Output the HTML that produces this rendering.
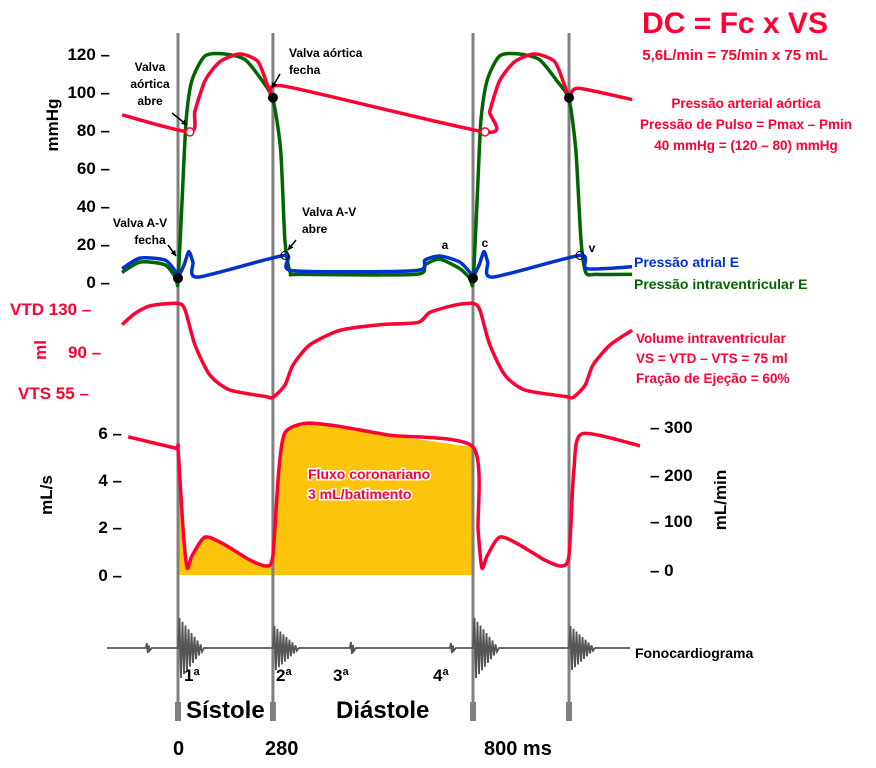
<!DOCTYPE html>
<html><head><meta charset="utf-8"><style>
body{margin:0;background:#fff}
svg{display:block;font-family:"Liberation Sans",sans-serif;font-weight:bold}
</style></head><body>
<svg id="c" width="876" height="768" viewBox="0 0 876 768">
<g id="marks"></g>
<g id="txt">
<text x="735" y="33" font-size="30" fill="#ff0033" text-anchor="middle">DC = Fc x VS</text>
<text x="735" y="60" font-size="15" fill="#ff0033" text-anchor="middle">5,6L/min = 75/min x 75 mL</text>
<g font-size="13.5" fill="#ff0033" text-anchor="middle">
<text x="746" y="108">Pressão arterial aórtica</text>
<text x="746" y="129">Pressão de Pulso = Pmax – Pmin</text>
<text x="746" y="150">40 mmHg = (120 – 80) mmHg</text></g>
<text x="634" y="267" font-size="14" fill="#0033cc">Pressão atrial E</text>
<text x="634" y="289" font-size="14" fill="#006600">Pressão intraventricular E</text>
<g font-size="13.5" fill="#ff0033">
<text x="636" y="343">Volume intraventricular</text>
<text x="636" y="363">VS = VTD – VTS = 75 ml</text>
<text x="636" y="383">Fração de Ejeção = 60%</text></g>
<g font-size="17" fill="#000" text-anchor="end">
<text x="110" y="60">120 –</text><text x="110" y="98">100 –</text><text x="110" y="136">80 –</text><text x="110" y="174">60 –</text><text x="110" y="212">40 –</text><text x="110" y="250">20 –</text><text x="110" y="288">0 –</text></g>
<text transform="translate(58,125) rotate(-90)" font-size="17" text-anchor="middle">mmHg</text>
<g font-size="17" fill="#ff0033">
<text x="10" y="315">VTD 130 –</text><text x="68" y="358">90 –</text><text x="18" y="399">VTS  55 –</text></g>
<text transform="translate(46,350) rotate(-90)" font-size="17" fill="#ff0033" text-anchor="middle">ml</text>
<g font-size="17" text-anchor="end">
<text x="122" y="439">6 –</text><text x="122" y="486">4 –</text><text x="122" y="533">2 –</text><text x="122" y="581">0 –</text></g>
<text transform="translate(52,495) rotate(-90)" font-size="17" text-anchor="middle">mL/s</text>
<g font-size="17">
<text x="650" y="433">– 300</text><text x="650" y="481">– 200</text><text x="650" y="527">– 100</text><text x="650" y="576">– 0</text></g>
<text transform="translate(726,500) rotate(-90)" font-size="17" text-anchor="middle">mL/min</text>
<g font-size="14" fill="#ff0033" stroke="#fff" stroke-width="3" paint-order="stroke">
<text x="308" y="479">Fluxo coronariano</text><text x="308" y="499">3 mL/batimento</text></g>
<text x="635" y="658" font-size="14">Fonocardiograma</text>
<g font-size="17">
<text x="184" y="681">1<tspan font-size="11" dy="-6">a</tspan></text>
<text x="276" y="681">2<tspan font-size="11" dy="-6">a</tspan></text>
<text x="333" y="681">3<tspan font-size="11" dy="-6">a</tspan></text>
<text x="433" y="681">4<tspan font-size="11" dy="-6">a</tspan></text></g>
<text x="186" y="718" font-size="24">Sístole</text>
<text x="336" y="718" font-size="24">Diástole</text>
<g font-size="20">
<text x="173" y="755">0</text><text x="265" y="755">280</text><text x="484" y="755">800  ms</text></g>
<g font-size="12" text-anchor="middle">
<text x="150" y="71">Valva</text><text x="150" y="88">aórtica</text><text x="150" y="105">abre</text>
<text x="289" y="57" text-anchor="start">Valva aórtica</text><text x="289" y="74" text-anchor="start">fecha</text>
<text x="140" y="227">Valva A-V</text><text x="150" y="244">fecha</text>
<text x="302" y="216" text-anchor="start">Valva A-V</text><text x="302" y="233" text-anchor="start">abre</text>
<text x="445" y="249">a</text><text x="485" y="247">c</text><text x="592" y="252">v</text></g>
</g>
</svg>
<script>
// time (ms) & values
const aortaT=[-165,35,50,80,124,183,236,265,280,311,835,849,878,922,980,1038,1068,1080,1106,1264];
const aortaV=[88,79,90,106,116,120,116,103,97,103,79,90,106,116,120,116,103,97,102,96];
const lvT=[-165,-112,-38,-6,0,12,24,41,80,139,198,248,280,300,311,325,351,650,675,714,766,792,800,812,823,841,878,936,994,1044,1080,1100,1115,1129,1158,1264];
const lvV=[5,10.5,9,2,0,43,85,106,119,120,117,106,96,69,22,5,4,4,9,12,7,2,0,43,85,106,119,120,117,106,96,69,22,5,4,4];
const laT=[-165,-112,-38,-9,0,18,32,44,59,311,330,650,675,714,766,792,800,818,832,843,858,1112,1132,1264];
const laV=[7,12.6,11.5,6,3,9,16,10.5,2.6,14,6,6,11.5,13.7,10.5,5,3,9,16,10.5,2.6,14,7,8];
const volT=[-165,-127,-80,0,21,50,94,153,257,280,311,332,376,454,558,657,688,753,800,820,849,893,951,1068,1092,1127,1150,1200,1264];
const volV=[116,126,133,135,129,98,71,57.7,52,51,62,80,98,111,116,118,127,133.5,135,129,98,71,57.7,52,51,62,80,98,111];
const flowT=[-147,-9,0,15,27,41,80,139,212,263,280,295,311,363,441,584,800,815,826,841,878,936,1009,1059,1080,1094,1118,1287];
const flowV=[5.83,5.36,5.3,1.9,0.3,0.8,1.6,1.27,0.63,0.38,0.84,4.4,6,6.4,6.3,5.9,5.4,1.9,0.3,0.8,1.6,1.27,0.63,0.38,0.84,4.4,5.96,5.45];
const eventT=[0,280,800,1080];
const soundT=[-95,0,280,480,740,800,1080];
const soundAmp=[5,30,22,6,5,30,22];

function x(t){return t<=280?178+t*0.339:(t<=800?273+(t-280)*0.3846:473+(t-800)*0.3429);}
function yP(v){return 282-v*1.9;}
function yV(v){return 309+(130-v)*1.12;}
function yF(v){return 575-v*23.7;}
const NS="http://www.w3.org/2000/svg",g=document.getElementById('marks');
function mk(tag,a){const e=document.createElementNS(NS,tag);for(const k in a)e.setAttribute(k,a[k]);g.appendChild(e);return e;}
function pts(T,V,ys){return T.map((t,i)=>[x(t),ys(V[i])]);}
function smooth(P){let s='M'+P[0][0].toFixed(1)+','+P[0][1].toFixed(1);const k=0.12;
 for(let i=0;i<P.length-1;i++){const p0=P[Math.max(0,i-1)],p1=P[i],p2=P[i+1],p3=P[Math.min(P.length-1,i+2)];
  s+='C'+(p1[0]+(p2[0]-p0[0])*k).toFixed(1)+','+(p1[1]+(p2[1]-p0[1])*k).toFixed(1)+' '+(p2[0]-(p3[0]-p1[0])*k).toFixed(1)+','+(p2[1]-(p3[1]-p1[1])*k).toFixed(1)+' '+p2[0].toFixed(1)+','+p2[1].toFixed(1);}
 return s;}
function d(T,V,ys){return smooth(pts(T,V,ys));}

// coronary fill 0..800
let fT=[],fV=[];flowT.forEach((t,i)=>{if(t>=0&&t<=800){fT.push(t);fV.push(flowV[i]);}});
let fd=d(fT,fV,yF)+'L'+x(800)+','+yF(0)+'L'+x(0)+','+yF(0)+'Z';
let e=mk('path',{d:fd,fill:'#fdc40e'});



eventT.forEach(t=>{
 let l=mk('line',{x1:x(t),x2:x(t),y1:33,y2:720,stroke:'#808080','stroke-width':3});
 
 
 let m=mk('line',{x1:x(t),x2:x(t),y1:702,y2:721,stroke:'#808080','stroke-width':6});
 
 
});

// phonocardiogram
let pd='M107,648';
soundT.forEach((t,i)=>{let cx=x(t),A=soundAmp[i];pd+='L'+cx.toFixed(1)+',648';
 const n=A>10?8:2,w=A>10?3:2;for(let k=0;k<n;k++){const a=A*(1-k/n);pd+='L'+(cx+k*w+w/2).toFixed(1)+','+(648-a)+'L'+(cx+k*w+w).toFixed(1)+','+(648+a);}
 pd+='L'+(cx+n*w+2).toFixed(1)+',648';});
pd+='L630,648';
e=mk('path',{d:pd,fill:'none',stroke:'#555','stroke-width':1.8});



e=mk('path',{d:d(lvT,lvV,yP),fill:'none',stroke:'#006600','stroke-width':3.5,'stroke-linejoin':'round'});


e=mk('path',{d:d(laT,laV,yP),fill:'none',stroke:'#0033cc','stroke-width':3.5,'stroke-linejoin':'round'});


e=mk('path',{d:d(aortaT,aortaV,yP),fill:'none',stroke:'#ff0033','stroke-width':3.5,'stroke-linejoin':'round'});


e=mk('path',{d:d(volT,volV,yV),fill:'none',stroke:'#ff0033','stroke-width':3.5,'stroke-linejoin':'round'});


e=mk('path',{d:d(flowT,flowV,yF),fill:'none',stroke:'#ff0033','stroke-width':3.5,'stroke-linejoin':'round'});



[[0,2],[800,2]].forEach(p=>{e=mk('circle',{cx:x(p[0]),cy:yP(p[1]),r:5,fill:'#000'});
 
 });
[[280,97],[1080,97]].forEach(p=>{e=mk('circle',{cx:x(p[0]),cy:yP(p[1]),r:5,fill:'#000'});
 
 });
[[35,79],[835,79]].forEach(p=>{e=mk('circle',{cx:x(p[0]),cy:yP(p[1]),r:4,fill:'#fff',stroke:'#ff0033','stroke-width':1.5});
 
 });
[[311,14],[1112,14]].forEach(p=>{e=mk('circle',{cx:x(p[0]),cy:yP(p[1]),r:4,fill:'none',stroke:'#000','stroke-width':1});
 
 });
[[172,113,187,125],[280,74,272,88],[168,245,176,256],[296,240,288,250]].forEach(a=>{
 e=mk('line',{x1:a[0],y1:a[1],x2:a[2],y2:a[3],stroke:'#000','stroke-width':1.5});
 
 
 const ang=Math.atan2(a[3]-a[1],a[2]-a[0]),L=6;
 e=mk('path',{d:`M${a[2]},${a[3]}L${a[2]-L*Math.cos(ang-0.5)},${a[3]-L*Math.sin(ang-0.5)}L${a[2]-L*Math.cos(ang+0.5)},${a[3]-L*Math.sin(ang+0.5)}Z`,fill:'#000'});
 
 
});
</script>
</body></html>
